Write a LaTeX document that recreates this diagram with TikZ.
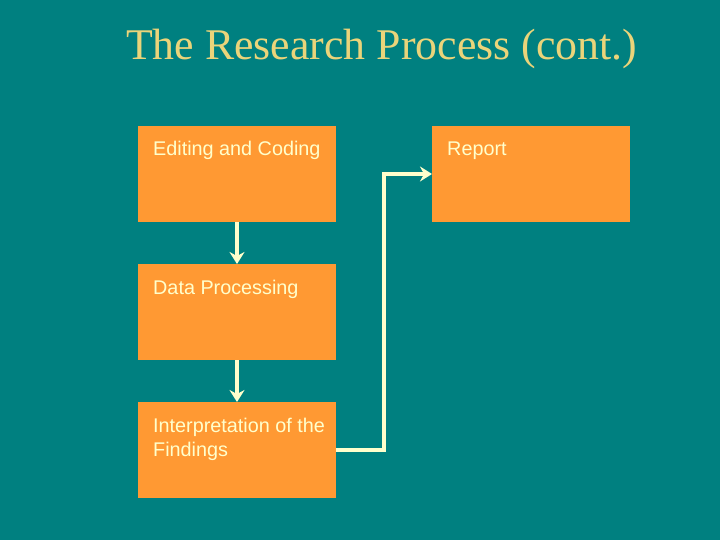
\documentclass[tikz,border=0pt]{standalone}
\usepackage{fontspec}
\setmainfont{Liberation Serif}
\newfontfamily\arialf{Liberation Sans}
\usetikzlibrary{arrows.meta}
\definecolor{bgteal}{RGB}{0,128,128}
\definecolor{boxorange}{RGB}{255,153,51}
\definecolor{txtcream}{RGB}{255,255,204}
\definecolor{titlegold}{RGB}{234,212,122}
\begin{document}
\begin{tikzpicture}[x=1pt,y=-1pt,
  stepbox/.style={fill=boxorange,draw=none},
  boxtext/.style={anchor=base west,inner sep=0pt,text=txtcream,font=\arialf\fontsize{19.8}{24}\selectfont,align=left},
  conn/.style={draw=txtcream,line width=4pt,-{Stealth[length=12pt,width=15pt,inset=4pt]}}]
\fill[bgteal] (0,0) rectangle (720,540);
\useasboundingbox (0,0) rectangle (720,540);
\node[anchor=base west,inner sep=0pt,text=titlegold,font=\fontsize{43.8}{48}\selectfont] (title) at (126,60) {The Research Process (cont.)};
\path[stepbox] (138,126) rectangle (336,222);
\path[stepbox] (138,264) rectangle (336,360);
\path[stepbox] (138,402) rectangle (336,498);
\path[stepbox] (432,126) rectangle (630,222);
\coordinate (b1s) at (237,222);
\coordinate (b2n) at (237,264);
\coordinate (b2s) at (237,360);
\coordinate (b3n) at (237,402);
\coordinate (b3e) at (336,450);
\coordinate (b4w) at (432,174);
\node[boxtext] (t1) at (153,156) {Editing and Coding};
\node[boxtext] (t2) at (153,294) {Data Processing};
\node[boxtext] (t3) at (153,456) {Interpretation of the\\Findings};
\node[boxtext] (t4) at (447,156) {Report};
\draw[conn] (b1s) -- (b2n);
\draw[conn] (b2s) -- (b3n);
\draw[conn] (b3e) -- (384,450) -- (384,174) -- (b4w);
\end{tikzpicture}
\end{document}
